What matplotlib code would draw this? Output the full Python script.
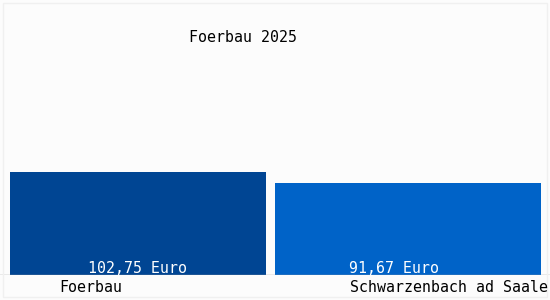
import matplotlib
matplotlib.use("Agg")
import matplotlib.pyplot as plt
from matplotlib.patches import Rectangle

# data
places = ["Foerbau", "Schwarzenbach ad Saale"]
prices = [102.75, 91.67]
value_labels = ["102,75 Euro", "91,67 Euro"]
title = "Foerbau 2025"

# layout (pixel-ish units, axes spans full width)
bar_left = [10, 275]
bar_width = [256, 266]
bar_colors = ["#004593", "#0063c8"]
label_x = [138, 394]
font = "DejaVu Sans Mono"
fs = 10.7

fig = plt.figure(figsize=(5.5, 3), dpi=100)
fig.patch.set_facecolor("#fcfcfc")
ax = fig.add_axes([0, 25 / 300, 1, 275 / 300])
ax.set_facecolor("#fcfcfc")
ax.set_xlim(0, 550)
ax.set_ylim(0, 275)

ax.bar(bar_left, prices, width=bar_width, align="edge", color=bar_colors)

for x, lab in zip(label_x, value_labels):
    ax.text(x, 2, lab, ha="center", va="baseline", color="white",
            fontsize=fs, family=font)

ax.axhline(0, color="#a0a0a0", lw=1)
for s in ax.spines.values():
    s.set_visible(False)
ax.set_xticks([])
ax.set_yticks([])

# category labels below the axis
fig.text(91 / 550, 1 - 288 / 300, places[0], ha="center", va="center",
         fontsize=fs, family=font)
fig.text(548 / 550, 1 - 288 / 300, places[1], ha="right", va="center",
         fontsize=fs, family=font)

fig.text(243 / 550, 1 - 38 / 300, title, ha="center", va="center",
         fontsize=fs, family=font)

# faint frame
fig.patches.append(Rectangle((3 / 550, 3 / 300), 544 / 550, 294 / 300,
                             transform=fig.transFigure, fill=False,
                             ec="#f0f0f0", lw=1))

fig.savefig("out.png", dpi=100, facecolor=fig.get_facecolor())
